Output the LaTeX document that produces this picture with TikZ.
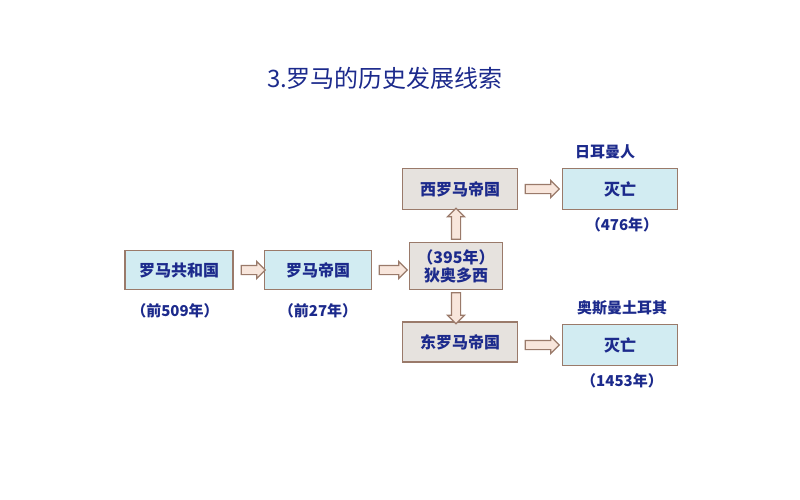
\documentclass[tikz,border=0pt]{standalone}
\usepackage{fontspec}
\setmainfont{Noto Sans CJK SC}
\usetikzlibrary{shapes.arrows,positioning}
\definecolor{navy}{HTML}{1C2A8C}
\definecolor{boxline}{HTML}{9A7A6A}
\definecolor{bluefill}{HTML}{D2ECF2}
\definecolor{greyfill}{HTML}{E6E2DE}
\definecolor{arrowfill}{HTML}{F8E6DC}
\begin{document}
\begin{tikzpicture}[x=1pt,y=-1pt,
  box/.style={draw=boxline,line width=1.6pt,fill=bluefill,text=navy,font=\fontsize{16}{18}\selectfont\bfseries,inner sep=0pt},
  note/.style={text=navy,font=\fontsize{15}{17}\selectfont\bfseries},
  blockarrow/.style={single arrow,draw=boxline,fill=arrowfill,line width=1.2pt,single arrow head extend=4pt,inner xsep=0pt,inner ysep=4pt}]
\useasboundingbox (0,0) rectangle (800,500);
\node[text=navy,font=\fontsize{24}{26}\selectfont] (title) at (385,78) {3.罗马的历史发展线索};
% main line
\node[box,minimum width=108pt,minimum height=39pt] (rep) at (179,270) {罗马共和国};
\node[box,minimum width=107pt,minimum height=39pt] (emp) at (318,270) {罗马帝国};
\node[box,fill=greyfill,minimum width=93pt,minimum height=47pt,align=center] (split) at (456,266) {（395年）\\狄奥多西};
\node[note] (repdate) at (175,311) {（前509年）};
\node[note] (empdate) at (318,311) {（前27年）};
% west and east
\node[box,fill=greyfill,minimum width=115pt,minimum height=41pt] (west) at (460,189) {西罗马帝国};
\node[box,fill=greyfill,minimum width=115pt,minimum height=40pt] (east) at (460,342) {东罗马帝国};
\node[box,minimum width=115pt,minimum height=41pt] (wend) at (620,189) {灭亡};
\node[box,minimum width=115pt,minimum height=41pt] (eend) at (620,345) {灭亡};
\node[note] (wby) at (605,152) {日耳曼人};
\node[note] (wdate) at (622,225) {（476年）};
\node[note] (eby) at (622,308) {奥斯曼土耳其};
\node[note] (edate) at (622,381) {（1453年）};
% arrows
\node[blockarrow,minimum height=24pt] (a1) at (251,270) {};
\node[blockarrow,minimum height=28pt] (a2) at (391,270) {};
\node[blockarrow,minimum height=34pt] (a3) at (540,189) {};
\node[blockarrow,minimum height=34pt] (a4) at (540,345) {};
\node[blockarrow,minimum height=31pt,rotate=90] (a5) at (456,226) {};
\node[blockarrow,minimum height=31pt,rotate=-90] (a6) at (456,306) {};
\end{tikzpicture}
\end{document}
